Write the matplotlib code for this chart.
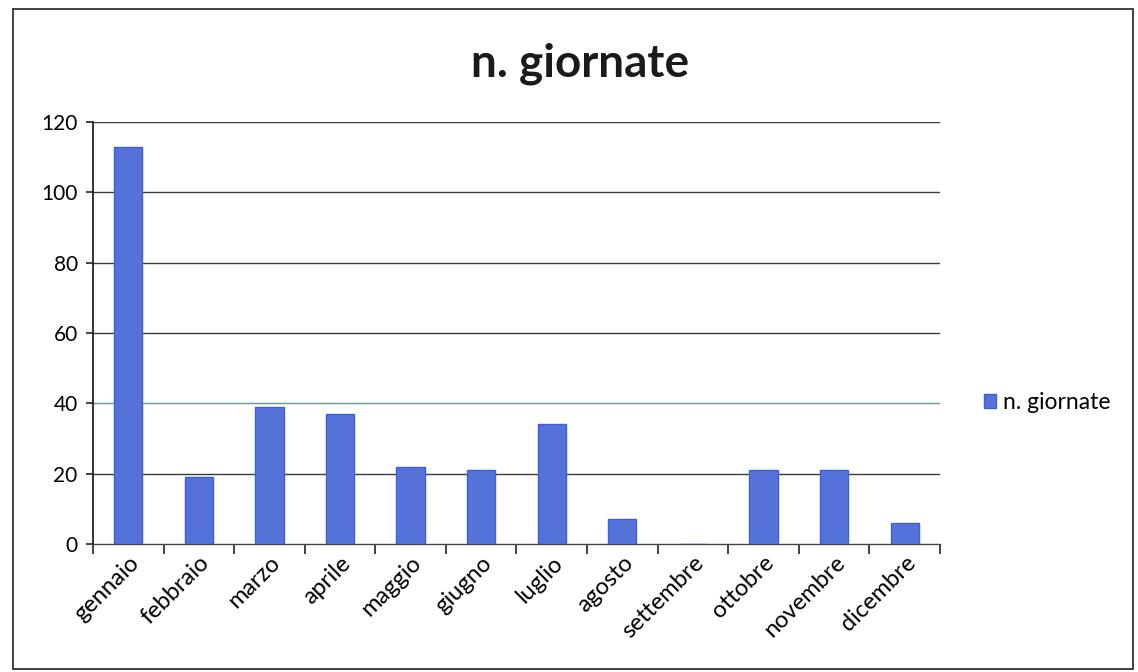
import matplotlib
matplotlib.use("Agg")
import matplotlib.pyplot as plt
from matplotlib.patches import Rectangle
import numpy as np

mesi = ['gennaio', 'febbraio', 'marzo', 'aprile', 'maggio', 'giugno',
        'luglio', 'agosto', 'settembre', 'ottobre', 'novembre', 'dicembre']
giornate = [113, 19, 39, 37, 22, 21, 34, 7, 0, 21, 21, 6]
y_ticks = [0, 20, 40, 60, 80, 100, 120]

plt.rcParams['font.family'] = ['Lato', 'DejaVu Sans']

fig = plt.figure(figsize=(11.38, 6.72), dpi=100)
ax = fig.add_axes([0.0817, 0.1905, 0.7443, 0.628])

# cornice esterna del grafico
fig.patches.append(Rectangle((0.011, 0.004), 0.985, 0.983, transform=fig.transFigure,
                             fill=False, edgecolor='#333333', linewidth=1.3))

x = np.arange(len(mesi))
ax.bar(x, giornate, width=0.4, color='#5572d8', edgecolor='#3b5ee0',
       linewidth=1.0, label='n. giornate', zorder=3)

ax.set_xlim(-0.5, len(mesi) - 0.5)
ax.set_ylim(0, 120)
ax.set_yticks(y_ticks)

for v in y_ticks[1:]:
    col = '#5e9c94' if v == 40 else '#3a3a3a'
    ax.axhline(v, color=col, linewidth=1.0, zorder=1)

ax.set_xticks(x)
ax.set_xticklabels(mesi, rotation=45, ha='right', rotation_mode='anchor', fontsize=17)
ax.tick_params(axis='x', which='major', length=0, pad=6)
ax.set_xticks(np.arange(-0.5, len(mesi)), minor=True)
ax.tick_params(axis='x', which='minor', length=7, width=1.2, color='#222222', direction='out')
ax.tick_params(axis='y', length=5, width=1.2, color='#222222', labelsize=15, pad=6)

for s in ['top', 'right']:
    ax.spines[s].set_visible(False)
ax.spines['left'].set_linewidth(1.3)
ax.spines['left'].set_color('#222222')
ax.spines['bottom'].set_linewidth(1.0)
ax.spines['bottom'].set_color('#444444')

fig.text(0.51, 0.905, 'n. giornate', ha='center', va='center', fontsize=33,
         fontweight='bold', color='#1a1a1a')

ax.legend(loc='center left', bbox_to_anchor=(1.028, 0.335), frameon=False,
          fontsize=16.5, handlelength=0.5, handleheight=0.5, handletextpad=0.3)

fig.savefig('out.png', dpi=100)
